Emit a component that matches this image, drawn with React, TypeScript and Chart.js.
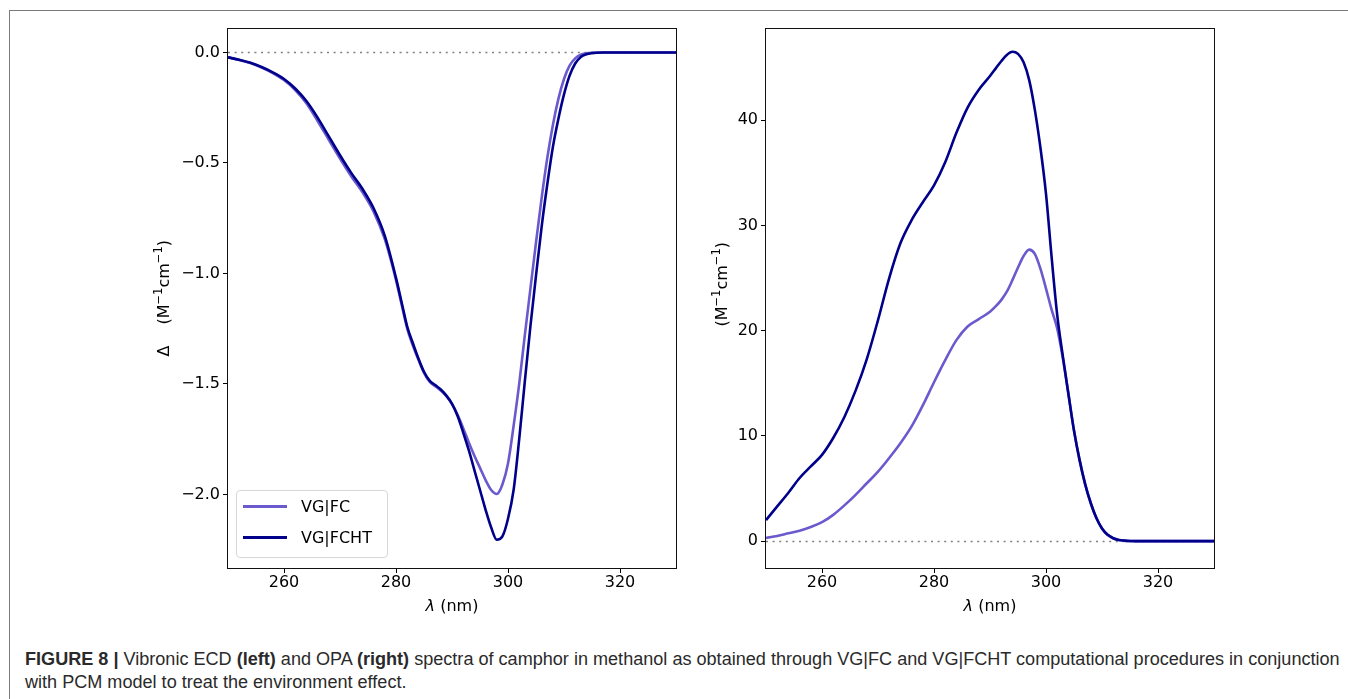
import React, { useEffect, useLayoutEffect, useRef } from "react";
import { Chart, registerables } from "chart.js";

Chart.register(...registerables);

// ---------- data ----------
const ecdWavelengths = [
  250, 252, 254, 256, 258, 260, 262, 264, 266, 268, 270, 272, 274, 276, 278, 280,
  281, 282, 283, 284, 285, 286, 287, 288, 289, 290, 291, 292, 293, 294, 295, 296,
  297, 298, 299, 300, 301, 302, 303, 304, 305, 306, 307, 308, 309, 310, 311, 312,
  313, 314, 315, 316, 317, 318, 320, 325, 330,
];
const ecdFC = [
  -0.022, -0.034, -0.048, -0.068, -0.093, -0.125, -0.17, -0.23, -0.31, -0.395, -0.48, -0.56, -0.632, -0.72, -0.845, -1.03,
  -1.14, -1.25, -1.325, -1.39, -1.45, -1.49, -1.51, -1.53, -1.555, -1.59, -1.64, -1.70, -1.765, -1.825, -1.88, -1.935,
  -1.98, -1.998, -1.955, -1.86, -1.69, -1.5, -1.28, -1.07, -0.86, -0.66, -0.48, -0.33, -0.21, -0.12, -0.06, -0.027,
  -0.01, -0.004, -0.001, 0, 0, 0, 0, 0, 0,
];
const ecdFCHT = [
  -0.022, -0.033, -0.047, -0.066, -0.09, -0.12, -0.163, -0.22, -0.295, -0.38, -0.465, -0.545, -0.617, -0.705, -0.83, -1.02,
  -1.13, -1.24, -1.315, -1.385, -1.445, -1.485, -1.505, -1.525, -1.553, -1.59, -1.645, -1.72, -1.80, -1.89, -1.98, -2.07,
  -2.15, -2.205, -2.19, -2.11, -1.98, -1.75, -1.49, -1.24, -1.01, -0.79, -0.6, -0.43, -0.3, -0.19, -0.105, -0.05,
  -0.02, -0.008, -0.003, -0.001, 0, 0, 0, 0, 0,
];

const opaWavelengths = [
  250, 252, 254, 256, 258, 260, 262, 264, 266, 268, 270, 272, 274, 276, 278, 280, 282, 284, 286, 288, 290,
  291, 292, 293, 294, 295, 296, 297, 298, 299, 300, 301, 302, 303, 304, 305, 306, 307, 308, 309, 310,
  311, 312, 313, 314, 315, 316, 318, 320, 325, 330,
];
const opaFC = [
  0.3, 0.5, 0.75, 1.0, 1.35, 1.8, 2.5, 3.4, 4.4, 5.5, 6.6, 7.9, 9.3, 10.9, 12.9, 15.1, 17.2, 19.1, 20.4, 21.1, 21.8,
  22.3, 22.9, 23.7, 24.8, 26.0, 27.1, 27.7, 27.3, 25.9, 24.0, 22.0, 20.2, 17.4, 14.0, 10.5, 7.7, 5.4, 3.6, 2.2, 1.2,
  0.6, 0.28, 0.12, 0.05, 0.015, 0, 0, 0, 0, 0,
];
const opaFCHT = [
  2.0, 3.3, 4.6, 6.0, 7.1, 8.2, 9.8, 11.8, 14.3, 17.3, 21.0, 25.0, 28.3, 30.5, 32.2, 33.8, 36.0, 38.8, 41.2, 42.9, 44.2,
  44.9, 45.6, 46.2, 46.5, 46.3, 45.5, 43.8, 41.0, 37.4, 33.0, 27.0, 21.5, 17.6, 14.0, 10.5, 7.7, 5.4, 3.6, 2.2, 1.2,
  0.6, 0.28, 0.12, 0.05, 0.015, 0, 0, 0, 0, 0,
];

const xTicks = [260, 280, 300, 320];
const ecdYTicks = [0, -0.5, -1.0, -1.5, -2.0];
const opaYTicks = [0, 10, 20, 30, 40];
const seriesNames = ["VG|FC", "VG|FCHT"];
const seriesColors = ["#6A5ACD", "#00008B"];

type Part = { t: string; sup?: boolean; it?: boolean };
const xTitleParts: Part[] = [{ t: "λ", it: true }, { t: " (nm)" }];
const ecdYTitleParts: Part[] = [
  { t: "Δ\u2003 (M" },
  { t: "\u22121", sup: true },
  { t: "cm" },
  { t: "\u22121", sup: true },
  { t: ")" },
];
const opaYTitleParts: Part[] = [
  { t: "(M" },
  { t: "\u22121", sup: true },
  { t: "cm" },
  { t: "\u22121", sup: true },
  { t: ")" },
];

const FONT = "'DejaVu Sans', sans-serif";

// ---------- drawing helpers ----------
function partFont(p: Part) {
  return `${p.it ? "italic " : ""}${p.sup ? 11.5 : 16}px ${FONT}`;
}
function drawParts(ctx: CanvasRenderingContext2D, parts: Part[], cx: number, cy: number, rotate: boolean) {
  ctx.save();
  ctx.translate(cx, cy);
  if (rotate) ctx.rotate(-Math.PI / 2);
  ctx.fillStyle = "#000";
  ctx.textBaseline = "alphabetic";
  ctx.textAlign = "left";
  let total = 0;
  const widths = parts.map((p) => {
    ctx.font = partFont(p);
    const w = ctx.measureText(p.t).width;
    total += w;
    return w;
  });
  let x = -total / 2;
  const base = 6;
  parts.forEach((p, i) => {
    ctx.font = partFont(p);
    ctx.fillText(p.t, x, p.sup ? base - 7 : base);
    x += widths[i];
  });
  ctx.restore();
}

function makePlugins(yTitle: Part[], yTitleShift: number) {
  return [
    {
      id: "boxZeroTitles",
      beforeDatasetsDraw(chart: any) {
        const { ctx, chartArea } = chart;
        const y = Math.round(chart.scales.y.getPixelForValue(0)) + 0.5;
        ctx.save();
        ctx.strokeStyle = "#808080";
        ctx.lineWidth = 1.6;
        ctx.setLineDash([2, 4.6]);
        ctx.beginPath();
        ctx.moveTo(chartArea.left, y);
        ctx.lineTo(chartArea.right, y);
        ctx.stroke();
        ctx.restore();
      },
      afterDraw(chart: any) {
        const { ctx, chartArea } = chart;
        ctx.save();
        ctx.strokeStyle = "#111";
        ctx.lineWidth = 1;
        ctx.strokeRect(
          Math.round(chartArea.left) - 0.5,
          Math.round(chartArea.top) - 0.5,
          Math.round(chartArea.right - chartArea.left) + 1,
          Math.round(chartArea.bottom - chartArea.top) + 1
        );
        ctx.restore();
        const midX = (chartArea.left + chartArea.right) / 2;
        const midY = (chartArea.top + chartArea.bottom) / 2;
        drawParts(ctx, xTitleParts, midX, chartArea.bottom + 37, false);
        drawParts(ctx, yTitle, chart.scales.y.left + 14, midY + yTitleShift, true);
      },
    },
  ];
}

function makeConfig(
  xs: number[],
  fc: number[],
  fcht: number[],
  yTicks: number[],
  yMin: number,
  yMax: number,
  yTitle: Part[],
  yTitleShift: number,
  yWidth: number,
  fmt: (v: number) => string
): any {
  const pts = (ys: number[]) => xs.map((x, i) => ({ x, y: ys[i] }));
  return {
    type: "line",
    data: {
      datasets: [
        {
          label: seriesNames[1],
          data: pts(fcht),
          borderColor: seriesColors[1],
          borderWidth: 2.6,
          pointRadius: 0,
          cubicInterpolationMode: "monotone",
          order: 1,
        },
        {
          label: seriesNames[0],
          data: pts(fc),
          borderColor: seriesColors[0],
          borderWidth: 2.6,
          pointRadius: 0,
          cubicInterpolationMode: "monotone",
          order: 2,
        },
      ],
    },
    options: {
      animation: false,
      responsive: false,
      maintainAspectRatio: false,
      layout: { padding: { top: 10, right: 10, bottom: 0, left: 0 } },
      plugins: { legend: { display: false }, tooltip: { enabled: false } },
      scales: {
        x: {
          type: "linear",
          min: 250,
          max: 330,
          afterBuildTicks: (s: any) => {
            s.ticks = xTicks.map((v) => ({ value: v }));
          },
          afterFit: (s: any) => {
            s.height = 51;
          },
          ticks: {
            font: { family: FONT, size: 16 },
            color: "#000",
            padding: 0,
            maxRotation: 0,
            callback: (v: any) => String(v),
          },
          grid: { display: true, drawOnChartArea: false, drawTicks: true, tickLength: 5, color: "#000" },
          border: { display: false },
          title: { display: false },
        },
        y: {
          type: "linear",
          min: yMin,
          max: yMax,
          afterBuildTicks: (s: any) => {
            s.ticks = yTicks.map((v) => ({ value: v }));
          },
          afterFit: (s: any) => {
            s.width = yWidth;
          },
          ticks: {
            font: { family: FONT, size: 16 },
            color: "#000",
            padding: 3,
            callback: (v: any) => fmt(Number(v)),
          },
          grid: { display: true, drawOnChartArea: false, drawTicks: true, tickLength: 5, color: "#000" },
          border: { display: false },
          title: { display: false },
        },
      },
    },
    plugins: makePlugins(yTitle, yTitleShift),
  };
}

function Panel(props: { left: number; width: number; cfg: any }) {
  const ref = useRef<HTMLCanvasElement | null>(null);
  useEffect(() => {
    if (!ref.current) return;
    const chart = new Chart(ref.current, props.cfg);
    return () => chart.destroy();
  }, []);
  return (
    <canvas
      ref={ref}
      width={props.width}
      height={603}
      style={{ position: "absolute", left: props.left, top: 16, width: props.width, height: 603 }}
    />
  );
}

function Legend() {
  const row = (i: number, top: number) => (
    <div style={{ position: "absolute", left: 0, top, height: 24, width: 151 }}>
      <div
        style={{
          position: "absolute",
          left: 6,
          top: 10,
          width: 44,
          height: 3,
          background: seriesColors[i],
        }}
      />
      <div
        style={{
          position: "absolute",
          left: 64,
          top: 0,
          lineHeight: "24px",
          fontFamily: FONT,
          fontSize: 16,
          color: "#000",
          whiteSpace: "nowrap",
        }}
      >
        {seriesNames[i]}
      </div>
    </div>
  );
  return (
    <div
      style={{
        position: "absolute",
        left: 236,
        top: 490,
        width: 150,
        height: 66,
        border: "1px solid #d8d8d8",
        borderRadius: 4,
        background: "rgba(255,255,255,0.8)",
      }}
    >
      {row(0, 4)}
      {row(1, 35)}
    </div>
  );
}

const captionLine1 = [
  { t: "FIGURE 8 | ", b: true },
  { t: "Vibronic ECD ", b: false },
  { t: "(left)", b: true },
  { t: " and OPA ", b: false },
  { t: "(right)", b: true },
  {
    t: " spectra of camphor in methanol as obtained through VG|FC and VG|FCHT computational procedures in conjunction",
    b: false,
  },
];
const captionLine2 = "with PCM model to treat the environment effect.";

function Caption() {
  const l1 = useRef<HTMLDivElement | null>(null);
  const l2 = useRef<HTMLDivElement | null>(null);
  useLayoutEffect(() => {
    if (!l1.current || !l2.current) return;
    const w = l1.current.scrollWidth;
    const s = 1315 / w;
    l1.current.style.transform = `scaleX(${s})`;
    l2.current.style.transform = `scaleX(${s})`;
  }, []);
  const base: any = {
    position: "absolute",
    left: 25,
    fontFamily: "'Liberation Sans Narrow', 'Liberation Sans', Arial, sans-serif",
    fontSize: 17.5,
    lineHeight: "23px",
    color: "#2a2a2a",
    whiteSpace: "nowrap",
    transformOrigin: "0 0",
  };
  return (
    <>
      <div ref={l1} style={{ ...base, top: 648, display: "inline-block" }}>
        {captionLine1.map((p, i) => (
          <span key={i} style={{ fontWeight: p.b ? "bold" : "normal" }}>
            {p.t}
          </span>
        ))}
      </div>
      <div ref={l2} style={{ ...base, top: 671, display: "inline-block" }}>
        {captionLine2}
      </div>
    </>
  );
}

const fmtEcd = (v: number) => (Math.abs(v) < 1e-9 ? "0.0" : v.toFixed(1).replace("-", "\u2212"));
const fmtOpa = (v: number) => String(Math.round(v));

export default function App() {
  const ecdCfg = makeConfig(
    ecdWavelengths,
    ecdFC,
    ecdFCHT,
    ecdYTicks,
    -2.333,
    0.108,
    ecdYTitleParts,
    0,
    79,
    fmtEcd
  );
  const opaCfg = makeConfig(
    opaWavelengths,
    opaFC,
    opaFCHT,
    opaYTicks,
    -2.55,
    48.7,
    opaYTitleParts,
    -14,
    59,
    fmtOpa
  );
  return (
    <div
      style={{
        position: "absolute",
        left: 0,
        top: 0,
        width: 1348,
        height: 699,
        overflow: "hidden",
        background: "#fff",
      }}
    >
      <div
        style={{
          position: "absolute",
          left: 9,
          top: 10,
          width: 1360,
          height: 720,
          borderLeft: "1px solid #7a7a7a",
          borderTop: "1px solid #7a7a7a",
        }}
      />
      <Panel left={149} width={537} cfg={ecdCfg} />
      <Panel left={707} width={517} cfg={opaCfg} />
      <Legend />
      <Caption />
    </div>
  );
}
